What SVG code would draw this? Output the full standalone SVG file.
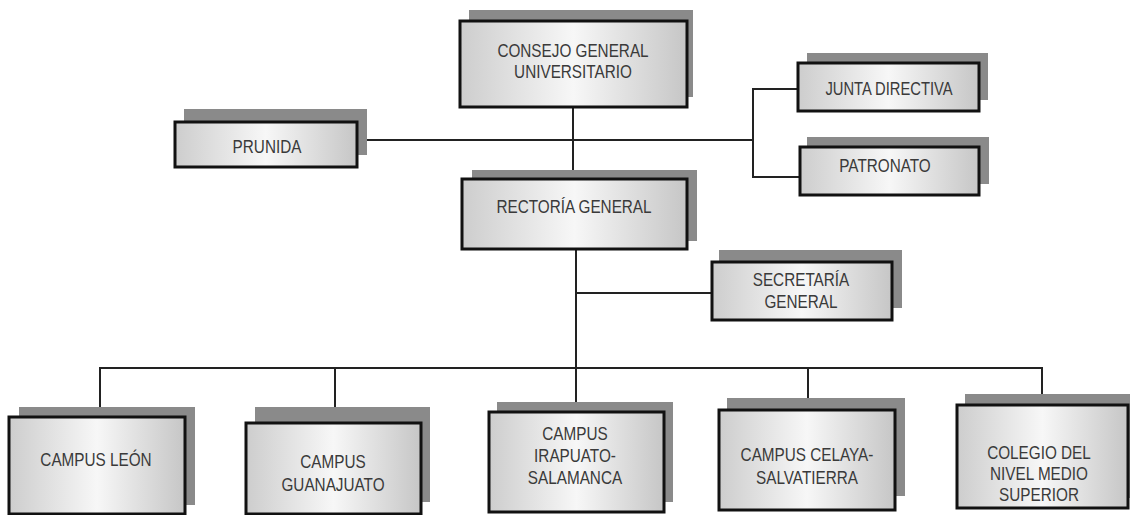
<svg xmlns="http://www.w3.org/2000/svg" width="1130" height="515" viewBox="0 0 1130 515">
<defs>
<linearGradient id="g" x1="0" y1="0" x2="1" y2="0">
<stop offset="0" stop-color="#cdcdcd"/>
<stop offset="0.5" stop-color="#f7f7f7"/>
<stop offset="1" stop-color="#c6c6c6"/>
</linearGradient>
<style>
.sh{fill:#8a8a8a}
.bx{fill:url(#g);stroke:#111;stroke-width:3}
.t{font-family:"Liberation Sans",Arial,sans-serif;font-size:18px;fill:#3a3a3a;text-anchor:middle}
.c{stroke:#222;stroke-width:2;fill:none}
</style>
</defs>
<rect width="1130" height="515" fill="#ffffff"/>
<g id="connectors">
<path class="c" d="M573 107V179"/>
<path class="c" d="M357 140H753"/>
<path class="c" d="M798 89H753V177H800"/>
<path class="c" d="M576 249V412"/>
<path class="c" d="M576 293H712"/>
<path class="c" d="M100 417V368H1042V405"/>
<path class="c" d="M335 368V423"/>
<path class="c" d="M808 368V410"/>
</g>
<g id="consejo">
<rect class="sh" x="469" y="10" width="224" height="87"/>
<rect class="bx" x="460" y="21" width="227" height="86"/>
<text class="t" transform="translate(573,57) scale(0.85,1)"><tspan x="0" y="0">CONSEJO GENERAL</tspan><tspan x="0" y="21">UNIVERSITARIO</tspan></text>
</g>
<g id="rectoria">
<rect class="sh" x="472" y="170" width="225" height="71"/>
<rect class="bx" x="462" y="179" width="225" height="70"/>
<text class="t" transform="translate(574,213) scale(0.85,1)">RECTORÍA GENERAL</text>
</g>
<g id="prunida">
<rect class="sh" x="184" y="109" width="183" height="46"/>
<rect class="bx" x="175" y="122" width="182" height="45"/>
<text class="t" transform="translate(267,153) scale(0.85,1)">PRUNIDA</text>
</g>
<g id="junta">
<rect class="sh" x="807" y="53" width="181" height="47"/>
<rect class="bx" x="798" y="63" width="181" height="48"/>
<text class="t" transform="translate(889,95) scale(0.82,1)">JUNTA DIRECTIVA</text>
</g>
<g id="patronato">
<rect class="sh" x="807" y="137" width="182" height="47"/>
<rect class="bx" x="800" y="147" width="179" height="48"/>
<text class="t" transform="translate(885,172) scale(0.85,1)">PATRONATO</text>
</g>
<g id="secretaria">
<rect class="sh" x="719" y="250" width="183" height="58"/>
<rect class="bx" x="712" y="262" width="180" height="58"/>
<text class="t" transform="translate(801,286) scale(0.85,1)"><tspan x="0" y="0">SECRETARÍA</tspan><tspan x="0" y="22">GENERAL</tspan></text>
</g>
<g id="leon">
<rect class="sh" x="19" y="407" width="176" height="98"/>
<rect class="bx" x="9" y="417" width="176" height="97"/>
<text class="t" transform="translate(96,466) scale(0.85,1)">CAMPUS LEÓN</text>
</g>
<g id="guanajuato">
<rect class="sh" x="255" y="407" width="175" height="95"/>
<rect class="bx" x="246" y="423" width="175" height="91"/>
<text class="t" transform="translate(333,468) scale(0.85,1)"><tspan x="0" y="0">CAMPUS</tspan><tspan x="0" y="23">GUANAJUATO</tspan></text>
</g>
<g id="irapuato">
<rect class="sh" x="497" y="402" width="176" height="100"/>
<rect class="bx" x="489" y="412" width="175" height="100"/>
<text class="t" transform="translate(575,440) scale(0.85,1)"><tspan x="0" y="0">CAMPUS</tspan><tspan x="0" y="22">IRAPUATO-</tspan><tspan x="0" y="44">SALAMANCA</tspan></text>
</g>
<g id="celaya">
<rect class="sh" x="727" y="398" width="178" height="98"/>
<rect class="bx" x="719" y="410" width="176" height="100"/>
<text class="t" transform="translate(807,461) scale(0.85,1)"><tspan x="0" y="0">CAMPUS CELAYA-</tspan><tspan x="0" y="23">SALVATIERRA</tspan></text>
</g>
<g id="colegio">
<rect class="sh" x="965" y="394" width="170" height="104"/>
<rect class="bx" x="957" y="405" width="171" height="103"/>
<text class="t" transform="translate(1039,459) scale(0.85,1)"><tspan x="0" y="0">COLEGIO DEL</tspan><tspan x="0" y="21">NIVEL MEDIO</tspan><tspan x="0" y="42">SUPERIOR</tspan></text>
</g>
</svg>
